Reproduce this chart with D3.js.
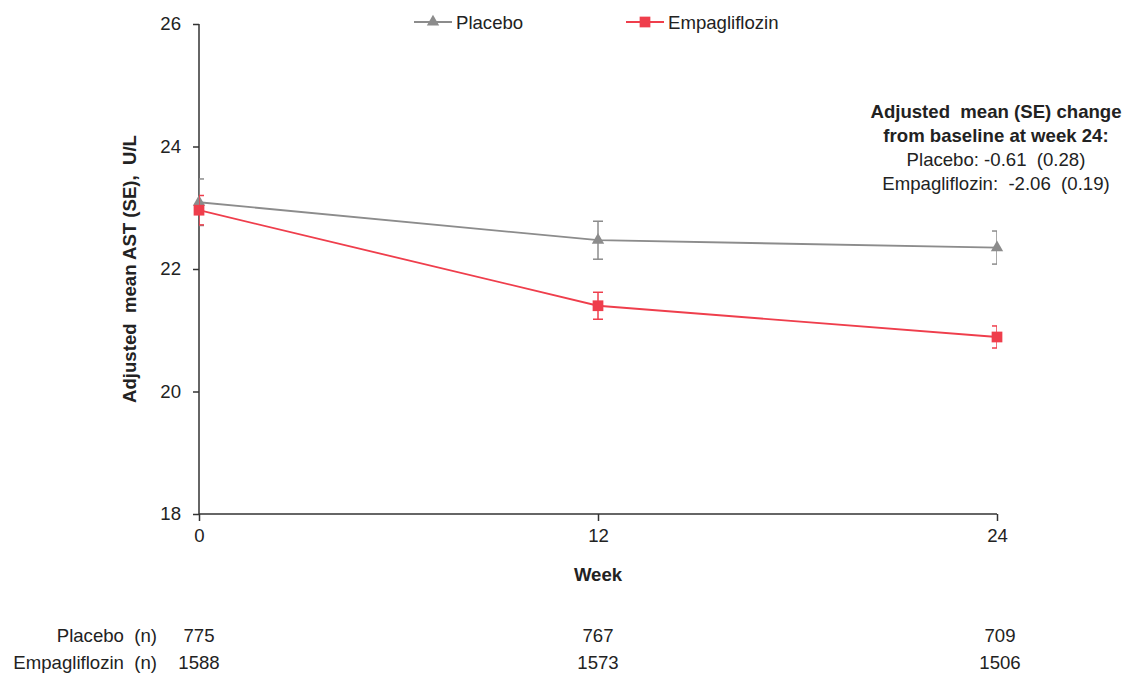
<!DOCTYPE html>
<html>
<head>
<meta charset="utf-8">
<script src="https://cdn.jsdelivr.net/npm/d3@7"></script>
<style>
  html, body { margin: 0; padding: 0; background: #fff; }
  svg { display: block; font-family: "Liberation Sans", Arial, sans-serif; }
</style>
</head>
<body>
<svg id="chart" width="1128" height="675"></svg>
<script>
const weeks = [0, 12, 24];
const placeboMean = [23.09, 22.47, 22.35];
const placeboSE = [0.38, 0.31, 0.27];
const empaMean = [22.96, 21.40, 20.89];
const empaSE = [0.24, 0.22, 0.18];
const placeboN = [775, 767, 709];
const empaN = [1588, 1573, 1506];
const yTicks = [18, 20, 22, 24, 26];
const seriesNames = ["Placebo", "Empagliflozin"];
const tableLabels = ["Placebo  (n)", "Empagliflozin  (n)"];
const annotationLines = [
  "Adjusted  mean (SE) change",
  "from baseline at week 24:",
  "Placebo: -0.61  (0.28)",
  "Empagliflozin:  -2.06  (0.19)"
];

(function () {
const gray = "#8c8c8c";
const red = "#ef3e4c";
const axisColor = "#333";
const fs = 18.6;

const svg = d3.select("#chart");
const pLeft = 199, pRight = 997, pTop = 24, pBottom = 514;

const x = d3.scaleLinear().domain([0, 24]).range([pLeft, pRight]);
const y = d3.scaleLinear().domain([18, 26]).range([pBottom, pTop]);

svg.append("defs").append("clipPath").attr("id", "plotClip")
  .append("rect").attr("x", pLeft).attr("y", 0).attr("width", pRight - pLeft).attr("height", pBottom);

// Y axis
const yAxis = svg.append("g").attr("transform", `translate(${pLeft},0)`)
  .call(d3.axisLeft(y).tickValues(yTicks).tickSize(6).tickPadding(12).tickFormat(d3.format("d")));
yAxis.select(".domain").attr("stroke", axisColor).attr("stroke-width", 1.5).attr("d", `M0,${pTop}V${pBottom}`);
yAxis.selectAll(".tick line").attr("stroke", axisColor).attr("stroke-width", 1.5);
yAxis.selectAll(".tick text").attr("font-size", fs).attr("fill", "#222").attr("font-family", "Liberation Sans, Arial, sans-serif");

// X axis
const xAxis = svg.append("g").attr("transform", `translate(0,${pBottom})`)
  .call(d3.axisBottom(x).tickValues(weeks).tickSize(7).tickPadding(8).tickFormat(d3.format("d")));
xAxis.select(".domain").attr("stroke", axisColor).attr("stroke-width", 1.5).attr("d", `M${pLeft},0H${pRight}`);
xAxis.selectAll(".tick line").attr("stroke", axisColor).attr("stroke-width", 1.5);
xAxis.selectAll(".tick text").attr("font-size", fs).attr("fill", "#222").attr("font-family", "Liberation Sans, Arial, sans-serif");

// Axis titles
svg.append("text").attr("x", x(12)).attr("y", 581).attr("text-anchor", "middle")
  .attr("font-size", fs).attr("font-weight", "bold").attr("fill", "#222").text("Week");
svg.append("text").attr("transform", `translate(136,${(pTop + pBottom) / 2}) rotate(-90)`)
  .attr("text-anchor", "middle").attr("font-size", fs).attr("font-weight", "bold")
  .attr("fill", "#222").style("white-space", "pre").text("Adjusted  mean AST (SE),  U/L");

const series = [
  { name: seriesNames[0], mean: placeboMean, se: placeboSE, color: gray, sym: d3.symbolTriangle, size: 66 },
  { name: seriesNames[1], mean: empaMean, se: empaSE, color: red, sym: d3.symbolSquare, size: 115 }
];

const line = d3.line().x((d, i) => x(weeks[i])).y(d => y(d));

series.forEach(s => {
  const g = svg.append("g");
  const eb = g.append("g").attr("clip-path", "url(#plotClip)");
  s.mean.forEach((m, i) => {
    const cx = x(weeks[i]);
    const y1 = y(m + s.se[i]), y0 = y(m - s.se[i]);
    eb.append("line").attr("x1", cx).attr("x2", cx).attr("y1", y1).attr("y2", y0)
      .attr("stroke", s.color).attr("stroke-width", 1.5);
    [y1, y0].forEach(yy => eb.append("line").attr("x1", cx - 5).attr("x2", cx + 5)
      .attr("y1", yy).attr("y2", yy).attr("stroke", s.color).attr("stroke-width", 1.5));
  });
  g.append("path").datum(s.mean).attr("d", line).attr("fill", "none")
    .attr("stroke", s.color).attr("stroke-width", 1.8);
  g.selectAll(".pt").data(s.mean).enter().append("path")
    .attr("transform", (d, i) => `translate(${x(weeks[i])},${y(d)})`)
    .attr("d", d3.symbol().type(s.sym).size(s.size)).attr("fill", s.color);
});

// Legend
const legendPos = [414, 626];
series.forEach((s, i) => {
  const lx = legendPos[i], ly = 22;
  svg.append("line").attr("x1", lx).attr("x2", lx + 38).attr("y1", ly).attr("y2", ly)
    .attr("stroke", s.color).attr("stroke-width", 1.8);
  svg.append("path").attr("transform", `translate(${lx + 19},${ly})`)
    .attr("d", d3.symbol().type(s.sym).size(s.size)).attr("fill", s.color);
  svg.append("text").attr("x", lx + 42).attr("y", ly + 6.5).attr("font-size", fs)
    .attr("fill", "#222").text(s.name);
});

// Annotation
annotationLines.forEach((t, i) => {
  svg.append("text").attr("x", 996).attr("y", 118 + i * 24).attr("text-anchor", "middle")
    .attr("font-size", fs).attr("font-weight", i < 2 ? "bold" : "normal")
    .attr("fill", "#222").style("white-space", "pre").text(t);
});

// N table
const tableRows = [placeboN, empaN];
tableRows.forEach((row, r) => {
  const ty = 642 + r * 27;
  svg.append("text").attr("x", 157).attr("y", ty).attr("text-anchor", "end")
    .attr("font-size", fs).attr("fill", "#222").style("white-space", "pre").text(tableLabels[r]);
  row.forEach((n, i) => {
    svg.append("text").attr("x", x(weeks[i]) + (i === 2 ? 3 : 0)).attr("y", ty)
      .attr("text-anchor", "middle").attr("font-size", fs).attr("fill", "#222").text(n);
  });
});
})();
</script>
</body>
</html>
